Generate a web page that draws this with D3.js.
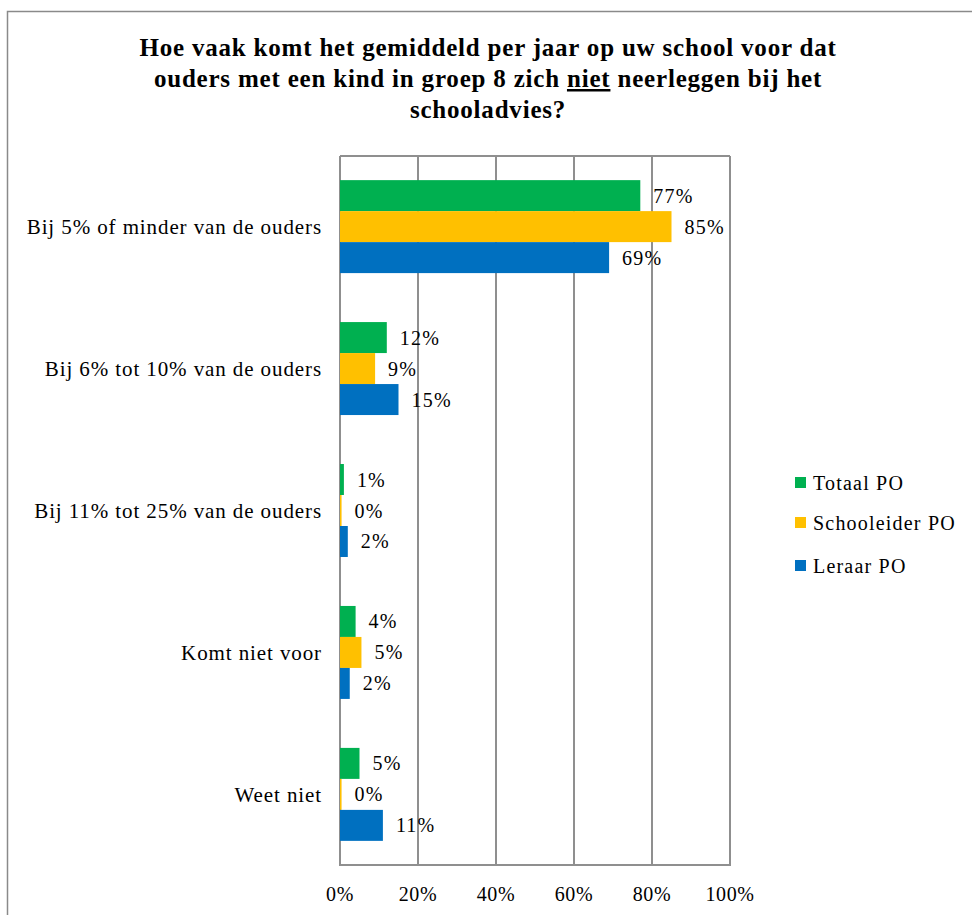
<!DOCTYPE html>
<html>
<head>
<meta charset="utf-8">
<script src="https://cdn.jsdelivr.net/npm/d3@7"></script>
<style>
  html, body { margin: 0; padding: 0; background: #fff; }
  svg { display: block; }
  text { font-family: "Liberation Serif", "DejaVu Serif", serif; fill: #000; }
</style>
</head>
<body>
<svg id="chart" width="972" height="915"></svg>
<script>
// ---- data ----
const categories = [
  "Bij 5% of minder van de ouders",
  "Bij 6% tot 10% van de ouders",
  "Bij 11% tot 25% van de ouders",
  "Komt niet voor",
  "Weet niet"
];
const seriesNames = ["Totaal PO", "Schooleider PO", "Leraar PO"];
const seriesColors = ["#00B050", "#FFC000", "#0070C0"];
// bar lengths (percent)
const totaalPO       = [77, 12, 1, 4, 5];
const schoolleiderPO = [85, 9, 0.4, 5.5, 0.4];
const leraarPO       = [69, 15, 2, 2.5, 11];
// data label texts
const totaalLabels       = ["77%", "12%", "1%", "4%", "5%"];
const schoolleiderLabels = ["85%", "9%", "0%", "5%", "0%"];
const leraarLabels       = ["69%", "15%", "2%", "2%", "11%"];
const xTicks = [0, 20, 40, 60, 80, 100];
const xTickLabels = ["0%", "20%", "40%", "60%", "80%", "100%"];
const titleLines = [
  [{t: "Hoe vaak komt het gemiddeld per jaar op uw school voor dat"}],
  [{t: "ouders met een kind in groep 8 zich "}, {t: "niet", u: true}, {t: " neerleggen bij het"}],
  [{t: "schooladvies?"}]
];

const seriesValues = [totaalPO, schoolleiderPO, leraarPO];
const seriesLabels = [totaalLabels, schoolleiderLabels, leraarLabels];

// ---- layout ----
const svg = d3.select("#chart");
const plot = {left: 340, right: 730, top: 156, bottom: 865};

// outer chart border
svg.append("rect")
  .attr("x", 7.5).attr("y", 11.5)
  .attr("width", 980).attr("height", 960)
  .attr("fill", "none").attr("stroke", "#8a8a8a").attr("stroke-width", 1.5);

// title
const title = svg.append("g");
titleLines.forEach((line, i) => {
  const t = title.append("text")
    .attr("x", 488).attr("y", 56 + i * 31)
    .attr("text-anchor", "middle")
    .attr("font-size", 25).attr("font-weight", "bold")
    .attr("letter-spacing", 0.8);
  line.forEach(seg => {
    const ts = t.append("tspan").text(seg.t);
    if (seg.u) ts.attr("text-decoration", "underline");
  });
});

const x = d3.scaleLinear().domain([0, 100]).range([plot.left, plot.right]);
const y = d3.scaleBand().domain(categories)
  .range([plot.top, plot.bottom]).paddingInner(0.345).paddingOuter(0.17);
const ySub = d3.scaleBand().domain(seriesNames).range([0, y.bandwidth()]);

// gridlines
svg.append("g").selectAll("line").data(xTicks).join("line")
  .attr("x1", d => x(d)).attr("x2", d => x(d))
  .attr("y1", plot.top).attr("y2", plot.bottom)
  .attr("stroke", "#8f8f8f").attr("stroke-width", 2);
// top & bottom border of plot area
svg.append("line").attr("x1", plot.left).attr("x2", plot.right)
  .attr("y1", plot.top).attr("y2", plot.top)
  .attr("stroke", "#8f8f8f").attr("stroke-width", 2);
svg.append("line").attr("x1", plot.left - 1).attr("x2", plot.right + 1)
  .attr("y1", plot.bottom).attr("y2", plot.bottom)
  .attr("stroke", "#8f8f8f").attr("stroke-width", 2);

// bars
const rows = [];
categories.forEach((c, ci) => {
  seriesNames.forEach((s, si) => {
    rows.push({cat: c, series: s, color: seriesColors[si],
               value: seriesValues[si][ci], label: seriesLabels[si][ci]});
  });
});

svg.append("g").selectAll("rect").data(rows).join("rect")
  .attr("x", x(0))
  .attr("y", d => y(d.cat) + ySub(d.series))
  .attr("width", d => x(d.value) - x(0))
  .attr("height", ySub.bandwidth())
  .attr("fill", d => d.color);

// data labels
svg.append("g").selectAll("text").data(rows).join("text")
  .attr("x", d => x(d.value) + 13)
  .attr("y", d => y(d.cat) + ySub(d.series) + ySub.bandwidth() / 2)
  .attr("dy", "0.35em")
  .attr("font-size", 20)
  .attr("letter-spacing", 1.2)
  .text(d => d.label);

// category labels
svg.append("g").selectAll("text").data(categories).join("text")
  .attr("x", 322)
  .attr("y", d => y(d) + y.bandwidth() / 2)
  .attr("dy", "0.35em")
  .attr("text-anchor", "end")
  .attr("font-size", 21)
  .attr("letter-spacing", 0.9)
  .text(d => d);

// x axis tick labels
svg.append("g").selectAll("text").data(xTicks).join("text")
  .attr("x", d => x(d))
  .attr("y", 901)
  .attr("text-anchor", "middle")
  .attr("font-size", 20)
  .attr("letter-spacing", 0.6)
  .text((d, i) => xTickLabels[i]);

// legend
const legendY = [483, 523, 566];
const legend = svg.append("g").selectAll("g").data(seriesNames).join("g")
  .attr("transform", (d, i) => `translate(795,${legendY[i]})`);
legend.append("rect")
  .attr("x", 0).attr("y", -6).attr("width", 11).attr("height", 11)
  .attr("fill", (d, i) => seriesColors[i]);
legend.append("text")
  .attr("x", 18).attr("y", 0).attr("dy", "0.35em")
  .attr("font-size", 20)
  .attr("letter-spacing", 1.2)
  .text(d => d);
</script>
</body>
</html>
